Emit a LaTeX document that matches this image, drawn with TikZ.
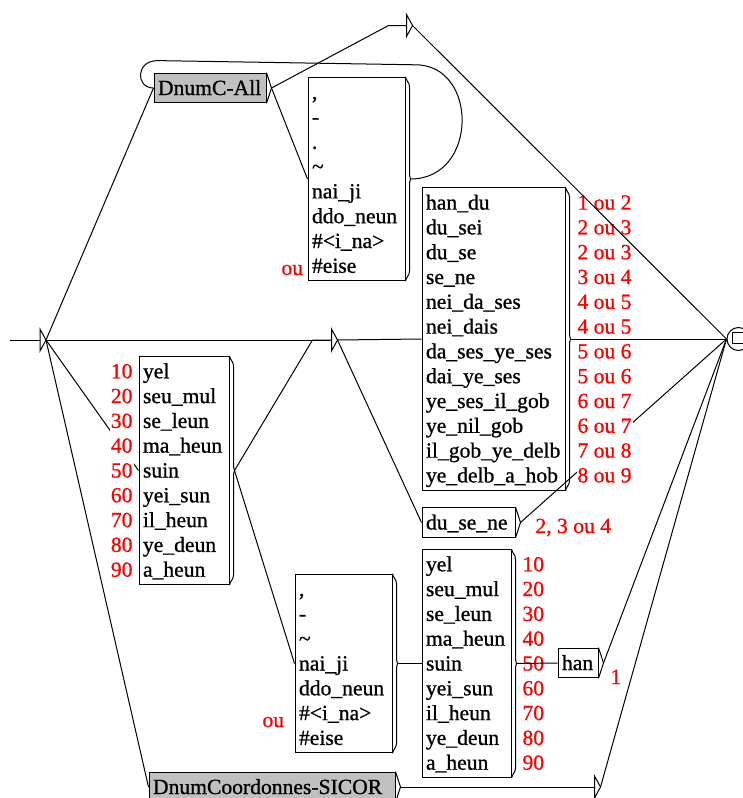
\documentclass[tikz,border=0pt]{standalone}
\usepackage{fontspec}
\setmainfont[FakeBold=0.9]{Liberation Serif}
\usepackage{tikz}
\definecolor{subgray}{RGB}{192,192,192}
\hyphenpenalty=10000
\exhyphenpenalty=10000
\newcommand\boxstrut{\rule[-5.4pt]{0pt}{24.8pt}}
% output marks on the right side of the boxes
\newcommand\outmark[1]{\draw (#1.north east) -- ([xshift=5pt]#1.east) coordinate (#1-o) -- (#1.south east);}
\newcommand\outbrace[1]{\draw (#1.north east) to[out=-80,in=90] ([shift={(4,10)}]#1.north east)
  -- ([shift={(4,-4)}]#1.east) -- ([xshift=5pt]#1.east) coordinate (#1-o) -- ([shift={(4,4)}]#1.east)
  -- ([shift={(4,-10)}]#1.south east) to[out=-90,in=80] (#1.south east);}
\tikzset{epsnode/.pic={\draw (0,-11) -- (6,0) -- (0,11) -- cycle;
    \coordinate (-in) at (0,0); \coordinate (-out) at (6,0);}}

\begin{document}
\begin{tikzpicture}[x=1pt,y=-1pt,line width=1pt,
   box/.style={rectangle,draw,fill=white,inner xsep=4pt,inner ysep=2.5pt,
    align=left,font=\fontsize{21.6}{24.8}\selectfont},
   call/.style={box,fill=subgray},
   lbl/.style={text=red,fill=white,inner xsep=1pt,inner ysep=2.5pt,
    font=\fontsize{21.6}{24.8}\selectfont}
    ]
  \useasboundingbox (0,0) rectangle (743,798);

  % -- top row
  \node[call,text width=104pt] at (210,88) (dnumc) {\boxstrut DnumC-All};
  \node[box,text width=89pt] at (356.5,179) (punctA) {\boxstrut ,\\ -\\ .\\ \textasciitilde\\ nai\_ji\\ ddo\_neun\\ \#<i\_na>\\ \#eise\boxstrut};

  % -- middle row
  \node[box,text width=135pt] at (493.5,339) (bigbox) {\boxstrut han\_du\\ du\_sei\\ du\_se\\ se\_ne\\ nei\_da\_ses\\ nei\_dais\\ da\_ses\_ye\_ses\\ dai\_ye\_ses\\ ye\_ses\_il\_gob\\ ye\_nil\_gob\\ il\_gob\_ye\_delb\\ ye\_delb\_a\_hob\boxstrut};
  \node[box,text width=85pt] at (468.5,522.5) (duse) {\boxstrut du\_se\_ne};
  \node[box,text width=82pt] at (184,470.5) (yelA) {\boxstrut yel\\ seu\_mul\\ se\_leun\\ ma\_heun\\ suin\\ yei\_sun\\ il\_heun\\ ye\_deun\\ a\_heun\boxstrut};

  % -- bottom row
  \node[box,text width=89pt] at (343.5,663.5) (punctB) {\boxstrut ,\\ -\\ \textasciitilde\\ nai\_ji\\ ddo\_neun\\ \#<i\_na>\\ \#eise\boxstrut};
  \node[box,text width=81pt] at (466.5,663.5) (yelB) {\boxstrut yel\\ seu\_mul\\ se\_leun\\ ma\_heun\\ suin\\ yei\_sun\\ il\_heun\\ ye\_deun\\ a\_heun\boxstrut};
  \node[box,text width=32pt] at (578,663) (han) {\boxstrut han};
  \node[call,text width=238pt] at (272,787) (sicor) {\boxstrut DnumCoordonnes-SICOR};

  % -- initial, final and empty states
  \coordinate (start) at (10,340);
  \pic (init) at (40,340) {epsnode};
  \pic (e1) at (331.5,340) {epsnode};
  \pic (e2) at (406.5,25.5) {epsnode};
  \pic (e3) at (594.5,787) {epsnode};
  \node[circle,draw,minimum size=23pt,inner sep=0pt] at (738.5,339) (fin) {};
  \node[draw,minimum size=11pt,inner sep=0pt] at (737.5,337.5) (finsq) {};

  \outmark{dnumc}
  \outbrace{punctA}
  \outbrace{bigbox}
  \outmark{duse}
  \outbrace{yelA}
  \outbrace{punctB}
  \outbrace{yelB}
  \outmark{han}
  \outmark{sicor}

  % -- transitions hidden by the outputs
  \draw (init-out) -- (yelA.west);
  \draw (duse-o) -- (fin.west);

  % -- outputs
  \node[lbl,align=right,anchor=east] at (134,470.5) (outA) {\boxstrut 10\\ 20\\ 30\\ 40\\ 50\\ 60\\ 70\\ 80\\ 90\boxstrut};
  \node[lbl,align=left,anchor=west] at (576,339) (outbig) {\boxstrut 1 ou 2\\ 2 ou 3\\ 2 ou 3\\ 3 ou 4\\ 4 ou 5\\ 4 ou 5\\ 5 ou 6\\ 5 ou 6\\ 6 ou 7\\ 6 ou 7\\ 7 ou 8\\ 8 ou 9\boxstrut};
  \node[lbl,align=left,anchor=west] at (521,663.5) (outB) {\boxstrut 10\\ 20\\ 30\\ 40\\ 50\\ 60\\ 70\\ 80\\ 90\boxstrut};
  \node[lbl,anchor=base west] at (534,533) (outduse) {2, 3 ou 4};
  \node[lbl,anchor=base west] at (609,684) (outhan) {1};
  \node[lbl,anchor=base west] at (280,275) (ouA) {ou};
  \node[lbl,anchor=base west] at (261,727) (ouB) {ou};

  % -- transitions
  \draw (start) -- (init-in);
  \draw (init-out) -- (dnumc.west);
  \draw (init-out) -- (e1-in);
  \draw (init-out) -- (sicor.west);
  \draw (dnumc-o) -- ([xshift=-18pt]e2-in) -- (e2-in);
  \draw (dnumc-o) -- (punctA.west);
  \draw (punctA-o) .. controls +(68,0) and +(63,0) .. ([shift={(10,-12)}]punctA.north east)
    -- ([shift={(4,-12)}]dnumc.north west) .. controls +(-22,0) and +(-18,0) .. (dnumc.west);
  \draw (e2-out) -- (fin.west);
  \draw (e1-out) -- (bigbox.west);
  \draw (e1-out) -- (duse.west);
  \draw (bigbox-o) -- (fin.west);
  \draw (yelA-o) -- ([xshift=-19pt]e1-in) -- (e1-in);
  \draw (yelA-o) -- (punctB.west);
  \draw (punctB-o) -- (yelB.west);
  \draw (yelB-o) -- (han.west);
  \draw (han-o) -- (fin.west);
  \draw (sicor-o) -- (e3-in);
  \draw (e3-out) -- (fin.west);

\end{tikzpicture}
\end{document}
